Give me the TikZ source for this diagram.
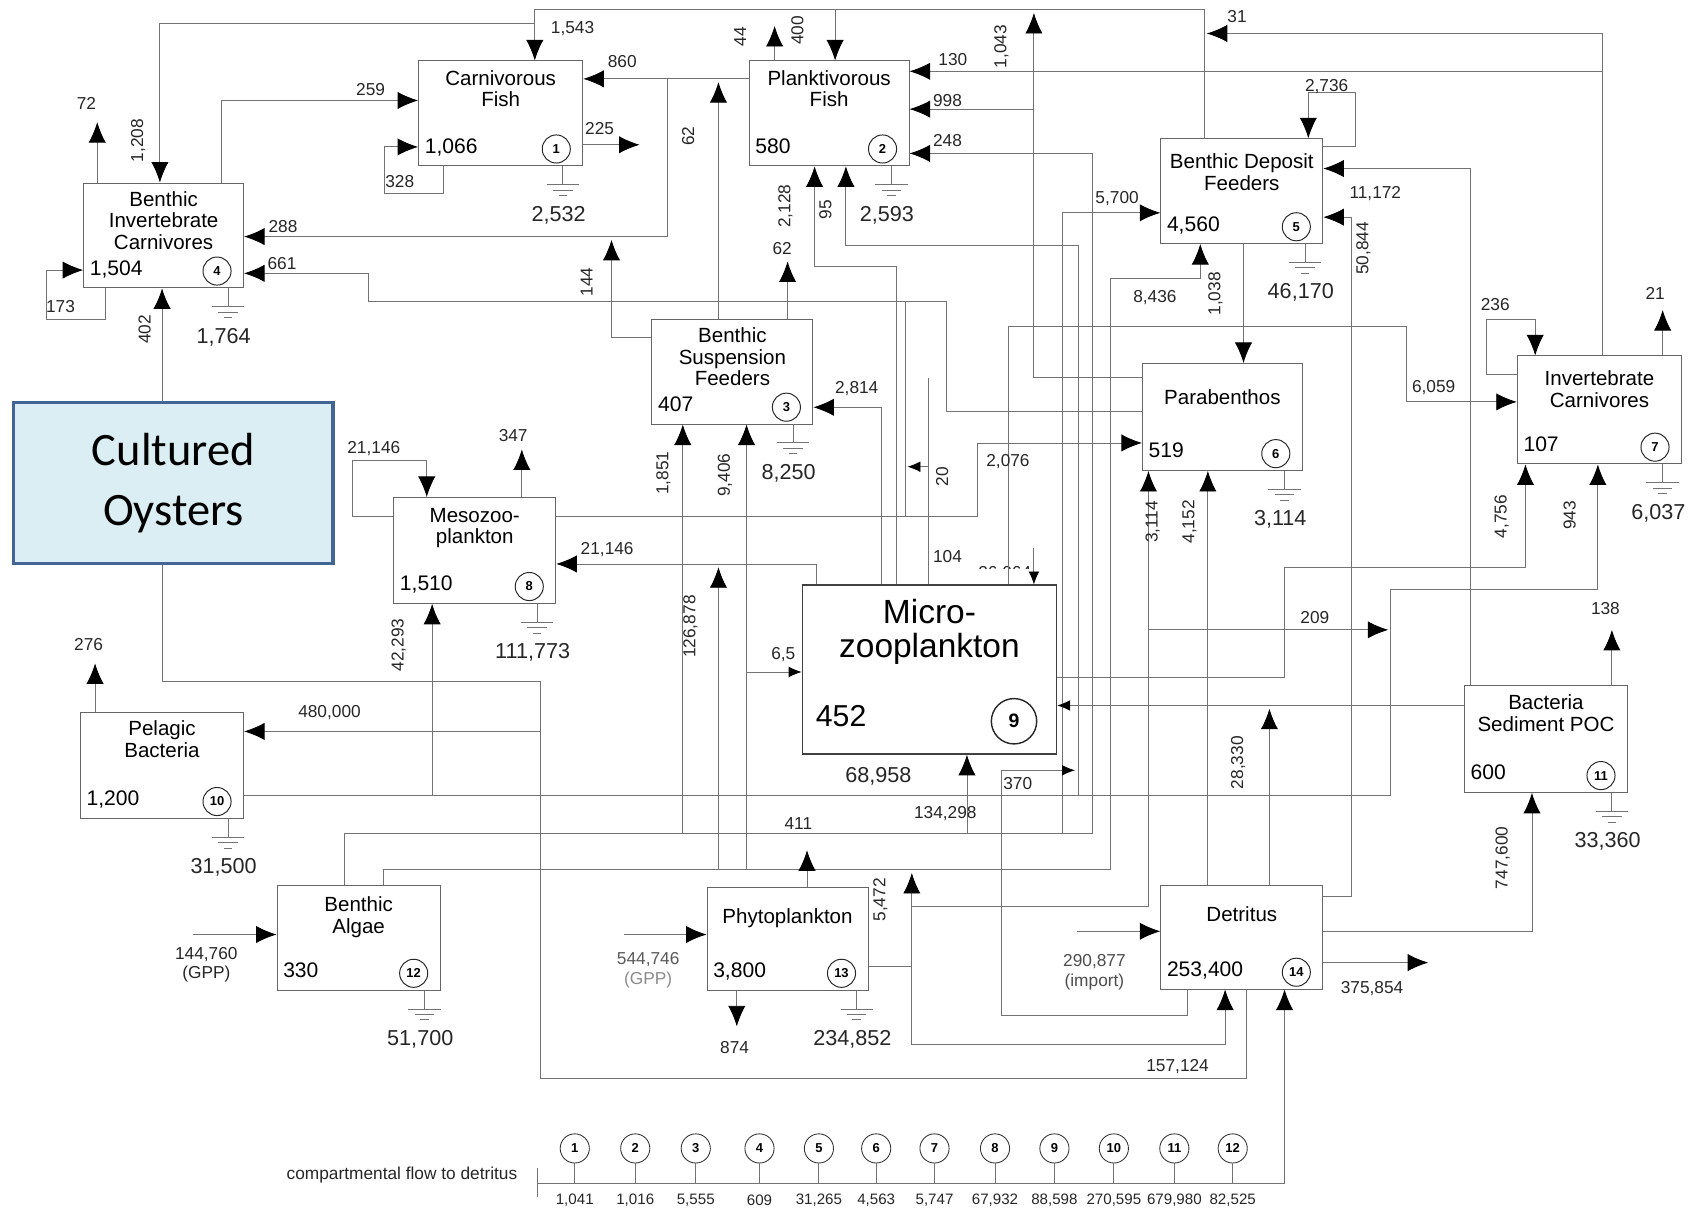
\documentclass[tikz,border=0pt]{standalone}
\usepackage{fontspec}
\setmainfont{Liberation Sans}
\newfontfamily\calibri{Carlito}
\usetikzlibrary{arrows.meta}

\definecolor{oysterfill}{RGB}{219,238,244}
\definecolor{oysterline}{RGB}{66,101,150}

\newcommand{\titlefont}{\fontsize{19}{20}\selectfont}
\newcommand{\valfont}{\fontsize{19.5}{21}\selectfont}
\newcommand{\flowfont}{\fontsize{16}{18}\selectfont}
\newcommand{\sinkfont}{\fontsize{20}{22}\selectfont}
\newcommand{\idxfont}{\fontsize{12}{13}\selectfont\bfseries}
\newcommand{\tinyfont}{\fontsize{14}{16}\selectfont}

% compartment: name, x1, y1, x2, y2, title, title drop, stock, number
\newcommand{\compartment}[9]{%
  \node[compartment, anchor=north west, minimum width={#4pt-#2pt}, minimum height={#5pt-#3pt}] (#1) at (#2,#3) {};
  \node[boxtitle, anchor=north] (#1-t) at ([yshift=-#7pt]#1.north) {#6};
  \node[boxvalue, anchor=base west] (#1-v) at ([xshift=6pt,yshift=12pt]#1.south west) {#8};
  \node[idx] (#1-i) at ([xshift=-25pt,yshift=16pt]#1.south east) {#9};
}
% respiration sink under a box
\newcommand{\respsink}[3]{%
  \draw[wire] (#1.south -| #2,0) -- ++(0,17) ++(-15,0) -- ++(30,0) ++(-24,5) -- ++(18,0) ++(-13,5) -- ++(8,0);
  \path (#1.south -| #2,0) ++(-4,45) node[sinklab] (#1-g) {#3};
}

\begin{document}
\begin{tikzpicture}[x=1pt, y=-1pt, font=\flowfont]
\tikzstyle{compartment}=[draw=black!60, line width=0.9pt, rectangle, inner sep=0pt, fill=white]
\tikzstyle{boxtitle}=[font=\titlefont, align=center, inner sep=0pt]
\tikzstyle{boxvalue}=[font=\valfont, inner sep=0pt]
\tikzstyle{idx}=[circle, draw=black!85, line width=0.9pt, minimum size=26pt, inner sep=0pt, font=\idxfont]
\tikzstyle{wire}=[draw=black!55, line width=0.8pt]
\tikzstyle{flow}=[wire, -{Latex[length=19pt,width=16pt,color=black]}]
\tikzstyle{shortflow}=[wire, -{Latex[length=12pt,width=10pt,color=black]}]
\tikzstyle{lab}=[font=\flowfont, text=black!85, inner sep=1pt]
\tikzstyle{vlab}=[lab, rotate=90]
\tikzstyle{sinklab}=[font=\sinkfont, text=black!85, inner sep=0pt]
\tikzstyle{tally}=[circle, draw=black!80, line width=0.8pt, minimum size=27pt, inner sep=0pt, font=\idxfont]

\useasboundingbox (0,0) rectangle (1568,1118);

% compartments
\compartment{binvc}{77}{169}{225}{266}{Benthic\\Invertebrate\\Carnivores}{8}{1,504}{4}
\compartment{cfish}{387}{56}{539}{153}{Carnivorous\\Fish}{9}{1,066}{1}
\compartment{pfish}{693}{56}{841}{153}{Planktivorous\\Fish}{9}{580}{2}
\compartment{bsusp}{603}{295}{752}{392}{Benthic\\Suspension\\Feeders}{8}{407}{3}
\compartment{bdep}{1074}{128}{1224}{225}{Benthic Deposit\\Feeders}{14}{4,560}{5}
\compartment{parab}{1057}{336}{1205}{435}{Parabenthos}{24}{519}{6}
\compartment{invc}{1404}{329}{1556}{429}{Invertebrate\\Carnivores}{14}{107}{7}
\compartment{meso}{364}{460}{514}{558}{Mesozoo-\\plankton}{10}{1,510}{8}
\compartment{pbact}{74}{659}{225}{757}{Pelagic\\Bacteria}{8}{1,200}{10}
\compartment{bsed}{1355}{634}{1506}{733}{Bacteria\\Sediment POC}{9}{600}{11}
\compartment{balg}{256}{819}{407}{916}{Benthic\\Algae}{11}{330}{12}
\compartment{phyto}{654}{821}{803}{916}{Phytoplankton}{20}{3,800}{13}
\compartment{detr}{1074}{819}{1224}{915}{Detritus}{20}{253,400}{14}

% microzooplankton, pasted larger
\node[lab] (f26064) at (930,531) {26,064};
\fill[white] (735,527) rectangle (990,711);
\node[compartment, draw=black!75, line width=1.6pt, anchor=north west, minimum width=235pt, minimum height=156pt] (micro) at (742,541) {};
\node[font=\fontsize{31}{32}\selectfont, align=center, anchor=north, inner sep=0pt] (micro-t) at ([yshift=-13pt]micro.north) {Micro-\\zooplankton};
\node[font=\fontsize{28}{30}\selectfont, anchor=base west, inner sep=0pt] (micro-v) at ([xshift=13pt,yshift=26pt]micro.south west) {452};
\node[idx, minimum size=42pt, line width=1.3pt, font=\fontsize{18}{20}\selectfont\bfseries] (micro-i) at ([xshift=-40pt,yshift=31pt]micro.south east) {9};

% respiration
\respsink{binvc}{211}{1,764}
\respsink{cfish}{521}{2,532}
\respsink{pfish}{825}{2,593}
\respsink{bsusp}{734}{8,250}
\respsink{bdep}{1208}{46,170}
\respsink{parab}{1189}{3,114}
\respsink{invc}{1539}{6,037}
\respsink{meso}{497}{111,773}
\respsink{pbact}{211}{31,500}
\respsink{bsed}{1492}{33,360}
\respsink{balg}{393}{51,700}
\respsink{phyto}{793}{234,852}

% top of the web
\draw[flow] (bdep.north -| 1115,0) -- (1115,9) -- (495,9) -- (cfish.north -| 495,0);
\draw[flow] (495,22) -- (148,22) -- (binvc.north -| 148,0);
\draw[flow] (773,9) -- (pfish.north -| 773,0);
\draw[flow] (pfish.north -| 717,0) -- (717,24);
\draw[flow] (binvc.north -| 90,0) -- (90,113);
\draw[flow] (binvc.north -| 205,0) -- (205,93) -- (cfish.west |- 0,93);
\draw[flow] (cfish.south -| 410,0) -- (410,179) -- (356,179) -- (356,136) -- (cfish.west |- 0,136);
\draw[flow] (cfish.east |- 0,134) -- (592,134);
\draw[flow] (pfish.west |- 0,73) -- (cfish.east |- 0,73);
\draw[flow] (618,73) -- (618,219) -- (binvc.east |- 0,219);
\draw[flow] (parab.west |- 0,381) -- (876,381) -- (876,279) -- (341,279) -- (341,253) -- (binvc.east |- 0,253);
\draw[flow] (binvc.south -| 98,0) -- (98,296) -- (43,296) -- (43,250) -- (binvc.west |- 0,250);
\draw[flow] (detr.south -| 1154,0) -- (1154,998) -- (500,998) -- (500,631) -- (150,631) -- (binvc.south -| 150,0);
\draw[flow] (500,677) -- (pbact.east |- 0,677);

% suspension feeders and fish
\draw[flow] (bsusp.west |- 0,312) -- (566,312) -- (566,222);
\draw[flow] (bsusp.north -| 665,0) -- (665,76);
\draw[flow] (bsusp.north -| 729,0) -- (729,242);
\draw[flow] (micro.north -| 830,0) -- (830,247) -- (754,247) -- (pfish.south -| 754,0);
\draw[flow] (micro.north -| 816,0) -- (816,377) -- (bsusp.east |- 0,377);
\draw[flow] (pbact.east |- 0,736) -- (1287,736) -- (1287,546) -- (1479,546) -- (invc.south -| 1479,0);
\draw[flow] (998,736) -- (998,227) -- (783,227) -- (pfish.south -| 783,0);
\draw[wire] (invc.north -| 1483,0) -- (1483,31);
\draw[flow] (1483,31) -- (1117,31);
\draw[flow] (1483,66) -- (pfish.east |- 0,66);
\draw[flow] (parab.west |- 0,349) -- (957,349) -- (957,12);
\draw[flow] (957,101) -- (pfish.east |- 0,101);
\draw[flow] (balg.north -| 319,0) -- (319,771) -- (1011,771) -- (1011,142) -- (pfish.east |- 0,142);

% deposit feeders
\draw[flow] (bdep.east |- 0,136) -- (1255,136) -- (1255,86) -- (1211,86) -- (bdep.north -| 1211,0);
\draw[flow] (bsed.north -| 1361,0) -- (1361,156) -- (bdep.east |- 0,156);
\draw[flow] (detr.east |- 0,830) -- (1251,830) -- (1251,201) -- (bdep.east |- 0,201);
\draw[flow] (983,771) -- (983,197) -- (bdep.west |- 0,197);
\draw[flow] (balg.north -| 355,0) -- (355,805) -- (1028,805) -- (1028,258) -- (1111,258) -- (bdep.south -| 1111,0);
\draw[flow] (bdep.south -| 1151,0) -- (parab.north -| 1151,0);

% invertebrate carnivores
\draw[flow] (invc.west |- 0,347) -- (1376,347) -- (1376,296) -- (1421,296) -- (invc.north -| 1421,0);
\draw[flow] (invc.north -| 1539,0) -- (1539,287);
\draw[flow] (micro.north -| 933,0) -- (933,302) -- (1302,302) -- (1302,372) -- (invc.west |- 0,372);
\draw[flow] (micro.east |- 0,627) -- (1189,627) -- (1189,525) -- (1412,525) -- (invc.south -| 1412,0);

% parabenthos and microzooplankton
\draw[flow] (meso.east |- 0,478) -- (905,478) -- (905,410) -- (parab.west |- 0,410);
\draw[wire] (838,279) -- (838,478);
\draw[wire] (859,350) -- (micro.north -| 859,0);
\draw[shortflow] (859,432) -- (840,432);
\draw[flow] (phyto.east |- 0,895) -- (844,895) -- (844,967) -- (1134,967) -- (detr.south -| 1134,0);
\draw[flow] (844,895) -- (844,808);
\draw[flow] (844,839) -- (1063,839) -- (parab.south -| 1063,0);
\draw[flow] (1063,583) -- (1285,583);
\draw[flow] (detr.north -| 1118,0) -- (parab.south -| 1118,0);
\draw[flow] (detr.north -| 1175,0) -- (1175,656);
\draw[shortflow] (bsed.west |- 0,653) -- (micro.east |- 0,653);
\draw[shortflow] (detr.south -| 1099,0) -- (1099,940) -- (927,940) -- (927,713) -- (995,713);
\draw[flow] (895,771) -- (micro.south -| 895,0);
\draw[shortflow] (691,622) -- (micro.west |- 0,622);
\draw[shortflow] (957,507) -- (micro.north -| 957,0);

% mesozooplankton
\draw[flow] (meso.west |- 0,478) -- (326,478) -- (326,426) -- (395,426) -- (meso.north -| 395,0);
\draw[flow] (meso.north -| 483,0) -- (483,416);
\draw[flow] (micro.north -| 756,0) -- (756,522) -- (meso.east |- 0,522);
\draw[flow] (400,736) -- (meso.south -| 400,0);
\draw[flow] (632,771) -- (bsusp.south -| 632,0);
\draw[flow] (691,805) -- (bsusp.south -| 691,0);
\draw[flow] (665,805) -- (665,525);

% producers, detritus, bacteria
\draw[flow] (pbact.north -| 88,0) -- (88,614);
\draw[flow] (179,865) -- (balg.west |- 0,865);
\draw[flow] (578,865) -- (phyto.west |- 0,865);
\draw[flow] (phyto.north -| 747,0) -- (747,787);
\draw[flow] (phyto.south -| 682,0) -- (682,950);
\draw[flow] (997,862) -- (detr.west |- 0,862);
\draw[flow] (detr.east |- 0,891) -- (1322,891);
\draw[flow] (detr.east |- 0,862) -- (1418,862) -- (bsed.south -| 1418,0);
\draw[flow] (bsed.north -| 1492,0) -- (1492,583);

% flow labels
\node[lab] (f72) at (80,96) {72};
\node[vlab] (f1208) at (128,130) {1,208};
\node[lab] (f259) at (343,83) {259};
\node[lab] (f1543) at (530,26) {1,543};
\node[lab] (f860) at (576,57) {860};
\node[lab] (f225) at (555,119) {225};
\node[lab] (f328) at (370,168) {328};
\node[vlab] (f62a) at (637,126) {62};
\node[lab] (f288) at (262,210) {288};
\node[lab] (f661) at (261,244) {661};
\node[lab] (f173) at (56,284) {173};
\node[vlab] (f402) at (134,305) {402};
\node[vlab] (f44) at (685,34) {44};
\node[vlab] (f400) at (738,28) {400};
\node[lab] (f130) at (882,55) {130};
\node[vlab] (f1043) at (927,43) {1,043};
\node[lab] (f998) at (877,93) {998};
\node[lab] (f248) at (877,130) {248};
\node[vlab] (f2128) at (727,191) {2,128};
\node[vlab] (f95) at (764,194) {95};
\node[lab] (f62b) at (724,230) {62};
\node[vlab] (f144) at (543,261) {144};
\node[lab] (f31) at (1145,15) {31};
\node[lab] (f2736) at (1228,80) {2,736};
\node[lab] (f5700) at (1034,184) {5,700};
\node[lab] (f11172) at (1273,179) {11,172};
\node[vlab] (f50844) at (1262,230) {50,844};
\node[lab] (f8436) at (1069,275) {8,436};
\node[vlab] (f1038) at (1125,272) {1,038};
\node[lab] (f236) at (1384,282) {236};
\node[lab] (f21) at (1532,272) {21};
\node[lab] (f6059) at (1327,359) {6,059};
\node[lab] (f2814) at (793,360) {2,814};
\node[vlab] (f1851) at (614,438) {1,851};
\node[vlab] (f9406) at (671,440) {9,406};
\node[vlab] (f20) at (872,441) {20};
\node[lab] (f2076) at (933,427) {2,076};
\node[lab] (f21146a) at (346,415) {21,146};
\node[lab] (f347) at (475,403) {347};
\node[vlab] (f3114) at (1067,483) {3,114};
\node[vlab] (f4152) at (1101,483) {4,152};
\node[vlab] (f4756) at (1390,478) {4,756};
\node[vlab] (f943) at (1453,477) {943};
\node[lab] (f21146b) at (562,509) {21,146};
\node[lab] (f104) at (877,515) {104};
\node[vlab] (f126878) at (639,580) {126,878};
\node[lab] (f65) at (725,606) {6,5};
\node[vlab] (f42293) at (369,597) {42,293};
\node[lab] (f209) at (1217,572) {209};
\node[lab] (f138) at (1486,563) {138};
\node[lab] (f276) at (82,597) {276};
\node[lab] (f480000) at (305,660) {480,000};
\node[sinklab] (f68958) at (813,719) {68,958};
\node[lab] (f370) at (942,725) {370};
\node[lab] (f134298) at (875,753) {134,298};
\node[vlab] (f28330) at (1146,706) {28,330};
\node[lab] (f411) at (739,762) {411};
\node[vlab] (f5472) at (815,833) {5,472};
\node[vlab] (f747600) at (1391,794) {747,600};
\node[lab, align=center] (f144760) at (191,893) {144,760\\(GPP)};
\node[lab, align=center, text=black!65] (f544746) at (600,898) {544,746\\{\color{black!45}(GPP)}};
\node[lab] (f874) at (680,970) {874};
\node[lab, align=center, text=black!70] (f290877) at (1013,900) {290,877\\(import)};
\node[lab] (f157124) at (1090,987) {157,124};
\node[lab] (f375854) at (1270,915) {375,854};

% compartmental flow to detritus
\node[lab, anchor=east] (cflow) at (480,1088) {compartmental flow to detritus};
\draw[wire] (497,1081) -- (497,1108);
\draw[flow] (497,1095) -- (1189,1095) -- (detr.south -| 1189,0);
\foreach \x/\n/\v in {532/1/{1,041},588/2/{1,016},644/3/{5,555},703/4/{609},758/5/{31,265},811/6/{4,563},865/7/{5,747},921/8/{67,932},976/9/{88,598},1031/10/{270,595},1087/11/{679,980},1141/12/{82,525}}{
  \node[tally] (t\n) at (\x,1063) {\n};
  \draw[wire] (t\n.south) -- (t\n.south |- 0,1095);
  \node[font=\tinyfont, text=black!85] (s\n) at (\x,1111) {\v};
}

% the cultured oysters tag
\node[draw=oysterline, fill=oysterfill, line width=3.5pt, anchor=north west, minimum width=296pt, minimum height=149pt, align=center, font=\calibri\fontsize{43}{55}\selectfont] (oyst) at (10.75,370.75) {Cultured\\Oysters};
\end{tikzpicture}
\end{document}
